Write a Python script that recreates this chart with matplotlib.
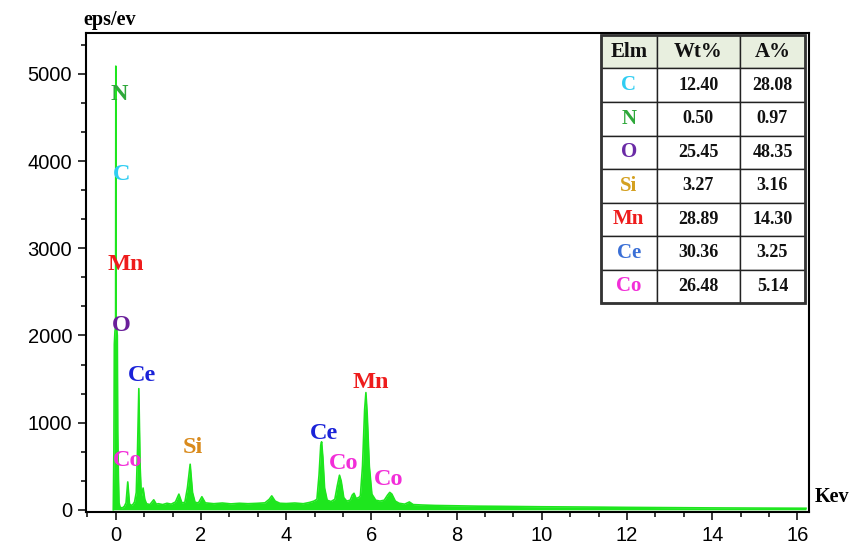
import matplotlib
matplotlib.use("Agg")
import matplotlib.pyplot as plt
from matplotlib.ticker import AutoMinorLocator
from matplotlib.patches import Rectangle

# ---- spectrum (energy keV, counts eps/ev) ----
energy = [-0.06, -0.045, -0.035, -0.02, -0.005, 0.0, 0.005, 0.02, 0.035, 0.045, 0.06, 0.075,
          0.10, 0.15, 0.20, 0.24, 0.28, 0.32, 0.36, 0.40, 0.44, 0.48, 0.51, 0.54,
          0.57, 0.60, 0.64, 0.68, 0.72, 0.80, 0.89, 0.95, 1.0, 1.1, 1.2, 1.3, 1.4,
          1.48, 1.55, 1.62, 1.68, 1.745, 1.80, 1.86, 1.94, 2.02, 2.1, 2.3, 2.5, 2.7,
          2.9, 3.1, 3.3, 3.5, 3.60, 3.66, 3.74, 3.85, 4.0, 4.2, 4.4, 4.55, 4.65,
          4.72, 4.77, 4.81, 4.83, 4.86, 4.90, 4.96, 5.05, 5.14, 5.20, 5.25, 5.29,
          5.35, 5.42, 5.50, 5.55, 5.59, 5.64, 5.70, 5.74, 5.79, 5.84, 5.87, 5.90,
          5.95, 6.01, 6.10, 6.20, 6.30, 6.38, 6.43, 6.48, 6.56, 6.65, 6.78, 6.89,
          6.98, 7.2, 7.5, 8.0, 8.5, 9.0, 10.0, 11.0, 12.0, 13.0, 14.0, 15.0, 16.2]
counts = [0, 700, 1900, 2050, 2100, 5090, 2100, 2080, 2000, 900, 400, 80,
          30, 20, 40, 80, 320, 70, 50, 60, 90, 200, 700, 1390,
          500, 150, 250, 120, 70, 60, 115, 65, 70, 60, 75, 65, 90,
          180, 80, 85, 250, 523, 200, 85, 80, 150, 80, 70, 78, 68,
          75, 70, 74, 80, 120, 160, 100, 75, 72, 78, 70, 85, 100,
          120, 400, 740, 780, 600, 250, 110, 95, 120, 280, 397, 330,
          140, 100, 110, 170, 190, 130, 140, 160, 500, 1150, 1345, 1100,
          500, 180, 110, 100, 110, 170, 200, 180, 100, 75, 65, 90,
          60, 55, 50, 46, 42, 40, 35, 32, 28, 25, 22, 20, 18]

# ---- peak labels ----
peak_labels = ["N", "C", "Mn", "O", "Ce", "Co", "Si", "Ce", "Co", "Mn", "Co"]
label_x = [0.09, 0.14, 0.23, 0.12, 0.61, 0.28, 1.81, 4.88, 5.35, 5.99, 6.41]
label_y = [4770, 3850, 2810, 2110, 1540, 565, 715, 875, 530, 1460, 350]

elem_colors = {"C": "#2fcdf2", "N": "#2ea83a", "O": "#6a1f9a", "Si": "#d98a1c",
               "Mn": "#ee1c1c", "Ce": "#1a22d8", "Co": "#f22ed8"}
table_elem_colors = {"C": "#2fcdf2", "N": "#2ea83a", "O": "#6a2aa6", "Si": "#d4a020",
                     "Mn": "#ee1c1c", "Ce": "#3a6fd6", "Co": "#f22ed8"}

# ---- table ----
table_header = ["Elm", "Wt%", "A%"]
table_elements = ["C", "N", "O", "Si", "Mn", "Ce", "Co"]
table_wt = ["12.40", "0.50", "25.45", "3.27", "28.89", "30.36", "26.48"]
table_at = ["28.08", "0.97", "48.35", "3.16", "14.30", "3.25", "5.14"]

x_ticks = [0, 2, 4, 6, 8, 10, 12, 14, 16]
y_ticks = [0, 1000, 2000, 3000, 4000, 5000]

fig = plt.figure(figsize=(8.51, 5.48), dpi=100)
ax = fig.add_axes([86 / 851, 1 - 512 / 548, 723 / 851, 479 / 548])

green = "#1ee61e"
ax.fill_between(energy, counts, 0, color=green, linewidth=0, zorder=2)
ax.plot(energy, counts, color=green, linewidth=1.2, zorder=3)

ax.set_xlim(-0.70, 16.27)
ax.set_ylim(-25, 5470)
ax.set_xticks(x_ticks)
ax.set_yticks(y_ticks)
ax.xaxis.set_minor_locator(AutoMinorLocator(3))
ax.yaxis.set_minor_locator(AutoMinorLocator(3))
ax.tick_params(which="major", direction="out", length=6, width=1.1,
               labelsize=14.5, pad=4)
ax.tick_params(which="minor", direction="out", length=3.3, width=1.1)
for lab in ax.get_xticklabels() + ax.get_yticklabels():
    lab.set_fontfamily("Liberation Sans")
for sp in ax.spines.values():
    sp.set_linewidth(1.5)

serif = "Liberation Serif"
for t, x, y in zip(peak_labels, label_x, label_y):
    ax.text(x, y, t, color=elem_colors[t], fontsize=17.5, fontweight="bold",
            family=serif, ha="center", va="center", zorder=5)

fig.text(110 / 851, 1 - 20 / 548, "eps/ev", fontsize=14.5, fontweight="bold",
         family=serif, ha="center", va="center")
fig.text(815 / 851, 1 - 497 / 548, "Kev", fontsize=14.5, fontweight="bold",
         family=serif, ha="left", va="center")

# table drawn in axes coordinates
cell_text = [[e, w, a] for e, w, a in zip(table_elements, table_wt, table_at)]
tab = ax.table(cellText=cell_text, colLabels=table_header,
               colWidths=[56 / 204, 83 / 204, 65 / 204],
               bbox=[0.712, 0.436, 0.2825, 0.56], cellLoc="center", zorder=6)
tab.auto_set_font_size(False)
for (r, c), cell in tab.get_celld().items():
    cell.set_linewidth(1.0)
    cell.set_edgecolor("#222222")
    txt = cell.get_text()
    txt.set_fontsize(13)
    txt.set_fontweight("bold")
    txt.set_fontfamily(serif)
    if r == 0:
        cell.set_facecolor("#e8efdf")
        txt.set_fontsize(15)
        txt.set_color("#111111")
    else:
        cell.set_facecolor("white")
        if c == 0:
            txt.set_color(table_elem_colors[table_elements[r - 1]])
            txt.set_fontsize(15)
        else:
            txt.set_color("#111111")
ax.add_patch(Rectangle((0.712, 0.436), 0.2825, 0.56, transform=ax.transAxes,
                       fill=False, edgecolor="#333333", linewidth=2.0, zorder=7))

fig.savefig("out.png", dpi=100)
